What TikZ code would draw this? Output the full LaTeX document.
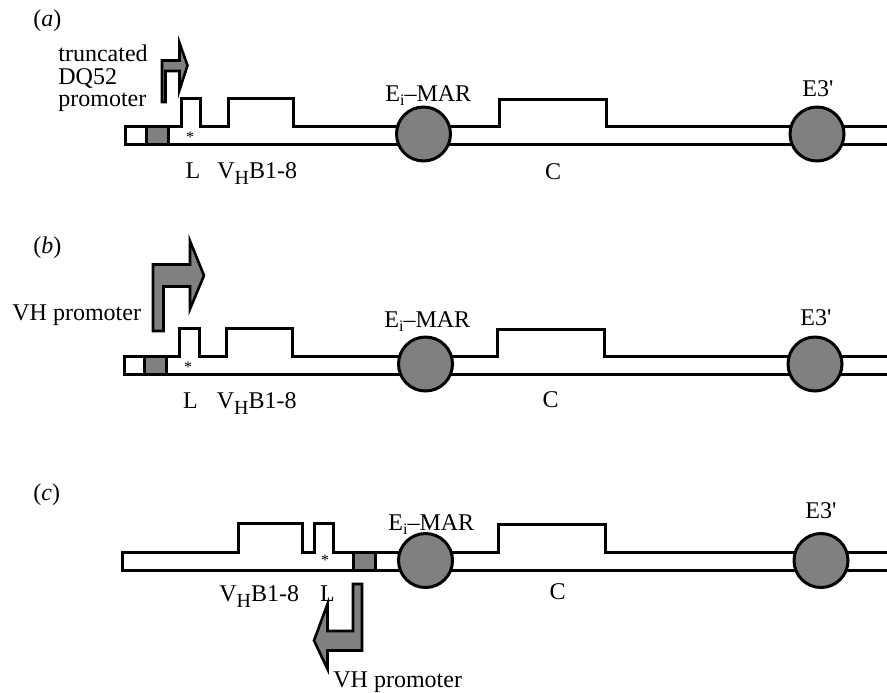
\documentclass[tikz,border=0pt]{standalone}
\usepackage{fontspec}
\setmainfont{Liberation Serif}
\newcommand{\subH}{\raisebox{-3pt}{\fontsize{10}{10}\selectfont H}}
\newcommand{\subi}{\raisebox{-2pt}{\fontsize{8}{8}\selectfont i}}
\definecolor{promgray}{HTML}{808080}
\begin{document}
\begin{tikzpicture}[x=0.5pt,y=-0.5pt,line join=miter,
  dna/.style={line width=1.5pt,draw=black},
  greybox/.style={line width=1.5pt,draw=black,fill=promgray},
  enh/.style={circle,draw=black,fill=promgray,line width=1.5pt,inner sep=0pt,minimum size=27pt},
  prom/.style={line width=1.3pt,draw=black,fill=promgray},
  lbl/.style={inner sep=0pt,anchor=base west,font=\fontsize{12}{14}\selectfont},
  lblc/.style={inner sep=0pt,anchor=base,font=\fontsize{12}{14}\selectfont},
  star/.style={inner sep=0pt,anchor=base,font=\fontsize{8}{8}\selectfont}]
\useasboundingbox (0,0) rectangle (887,692);

% ---------------- panel (a)
\draw[dna] (887,144) -- (125,144) -- (125,126) -- (181,126) -- (181,98.5) -- (200,98.5) -- (200,126)
  -- (228,126) -- (228,98.5) -- (293,98.5) -- (293,126) -- (499,126) -- (499,99) -- (606,99) -- (606,126) -- (887,126);
\draw[greybox] (146,126) rectangle (168,144);
\node[enh] (eiA) at (423.5,134) {};
\node[enh] (e3A) at (817,134) {};
\node[star] (stA) at (190,142.5) {*};
\draw[prom] (162,102) -- (162,60.5) -- (179.5,60.5) -- (179.5,43) -- (187.5,65.5) -- (179.5,90) -- (179.5,71) -- (165.5,71) -- (165.5,102) -- cycle;
\node[lbl] (tagA) at (33,26) {(\textit{a})};
\node[lbl] (pA1) at (58,61.5) {truncated};
\node[lbl] (pA2) at (58,84) {DQ52};
\node[lbl] (pA3) at (58,106) {promoter};
\node[lblc] (LA) at (193,178) {L};
\node[lbl] (VA) at (217,178) {V\subH B1-8};
\node[lbl] (eiAl) at (385,101.5) {E\subi–MAR};
\node[lblc] (CA) at (553,179) {C};
\node[lbl] (e3Al) at (802,96) {E3\textquotesingle};

% ---------------- panel (b)
\draw[dna] (887,374.5) -- (124,374.5) -- (124,356) -- (179,356) -- (179,328.5) -- (199,328.5) -- (199,356)
  -- (226,356) -- (226,328.5) -- (292,328.5) -- (292,356) -- (497,356) -- (497,329) -- (604,329) -- (604,356) -- (887,356);
\draw[greybox] (144,356) rectangle (166,374.5);
\node[enh] (eiB) at (425.5,364) {};
\node[enh] (e3B) at (815,364) {};
\node[star] (stB) at (188,372.5) {*};
\draw[prom] (153,331) -- (153,264.5) -- (190,264.5) -- (190,241) -- (204,275.5) -- (190,309) -- (190,286.5) -- (163.5,286.5) -- (163.5,331) -- cycle;
\node[lbl] (tagB) at (33,253) {(\textit{b})};
\node[lbl] (pB) at (12,320) {VH promoter};
\node[lblc] (LB) at (190.5,408) {L};
\node[lbl] (VB) at (216.5,408) {V\subH B1-8};
\node[lbl] (eiBl) at (384,327) {E\subi–MAR};
\node[lblc] (CB) at (550.5,407) {C};
\node[lbl] (e3Bl) at (800,325) {E3\textquotesingle};

% ---------------- panel (c)
\draw[dna] (887,570.5) -- (122,570.5) -- (122,552) -- (238,552) -- (238,523.5) -- (302,523.5) -- (302,552)
  -- (314,552) -- (314,523.5) -- (333,523.5) -- (333,552) -- (498,552) -- (498,524) -- (605,524) -- (605,552) -- (887,552);
\draw[greybox] (353,552) rectangle (375.5,570.5);
\node[enh] (eiC) at (425.5,560.5) {};
\node[enh] (e3C) at (821,560.5) {};
\node[star] (stC) at (325,565.5) {*};
\draw[prom] (353,584) -- (362,584) -- (362,650.5) -- (327.5,650.5) -- (327.5,669) -- (314,640.5) -- (327.5,604) -- (327.5,631) -- (353,631) -- cycle;
\node[lbl] (tagC) at (33,500) {(\textit{c})};
\node[lbl] (VC) at (219,601.5) {V\subH B1-8};
\node[lblc] (LC) at (327.5,601.5) {L};
\node[lbl] (eiCl) at (388,530) {E\subi–MAR};
\node[lblc] (CC) at (557.5,599) {C};
\node[lbl] (e3Cl) at (805,518) {E3\textquotesingle};
\node[lbl] (pC) at (333,687) {VH promoter};
\end{tikzpicture}
\end{document}
